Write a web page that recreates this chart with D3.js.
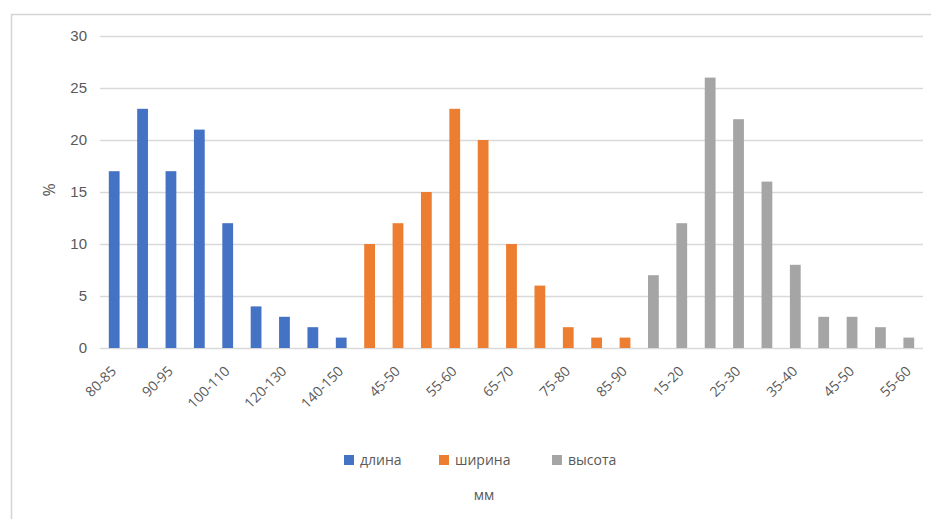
<!DOCTYPE html>
<html>
<head>
<meta charset="utf-8">
<script src="https://cdn.jsdelivr.net/npm/d3@7"></script>
<style>
  html, body { margin: 0; padding: 0; background: #fff; }
  svg { display: block; font-family: "Open Sans", "Noto Sans", sans-serif; }
</style>
</head>
<body>
<svg id="chart" width="931" height="519"></svg>
<script>
// Size classes (mm) for each measured dimension
const lengthBins = ["80-85", "85-90", "90-95", "95-100", "100-110", "110-120", "120-130", "130-140", "140-150"];
const widthBins  = ["40-45", "45-50", "50-55", "55-60", "60-65", "65-70", "70-75", "75-80", "80-85", "85-90"];
const heightBins = ["10-15", "15-20", "20-25", "25-30", "30-35", "35-40", "40-45", "45-50", "50-55", "55-60"];

// Share of specimens in each class, %
const lengthValues = [17, 23, 17, 21, 12, 4, 3, 2, 1];
const widthValues  = [10, 12, 15, 23, 20, 10, 6, 2, 1, 1];
const heightValues = [7, 12, 26, 22, 16, 8, 3, 3, 2, 1];

const seriesNames = ["длина", "ширина", "высота"];
const seriesColors = ["#4472C4", "#ED7D31", "#A5A5A5"];
const yTicks = [0, 5, 10, 15, 20, 25, 30];
const yTitle = "%";
const xTitle = "мм";

// One row per category, tagged with its series
const rows = [];
[[lengthBins, lengthValues], [widthBins, widthValues], [heightBins, heightValues]].forEach(([bins, vals], s) => {
  bins.forEach((b, i) => rows.push({ key: s + ":" + b, label: b, value: vals[i], series: s }));
});

const svg = d3.select("#chart");
const W = 931, H = 519;
const plot = { left: 100, right: 923, top: 36, bottom: 348 };

// Chart frame
svg.append("path")
  .attr("d", `M11.5,${H} V14.5 H${W}`)
  .attr("fill", "none").attr("stroke", "#d4d4d4").attr("stroke-width", 1.5);

const x = d3.scaleBand()
  .domain(rows.map(d => d.key))
  .range([plot.left, plot.right])
  .paddingInner(0.62).paddingOuter(0.31);

const y = d3.scaleLinear().domain([0, 30]).range([plot.bottom, plot.top]);

const color = d3.scaleOrdinal().domain([0, 1, 2]).range(seriesColors);

// Horizontal gridlines and value labels
const yAxis = svg.append("g")
  .attr("transform", `translate(${plot.left},0)`)
  .call(d3.axisLeft(y).tickValues(yTicks).tickSize(-(plot.right - plot.left)).tickPadding(13));
yAxis.select(".domain").remove();
yAxis.selectAll(".tick line").attr("stroke", "#d9d9d9").attr("stroke-width", 1.3);
yAxis.selectAll(".tick text")
  .attr("fill", "#595959").style("font-size", "15px");

// Bars
svg.append("g").selectAll("rect")
  .data(rows)
  .join("rect")
  .attr("x", d => x(d.key))
  .attr("width", x.bandwidth())
  .attr("y", d => y(d.value))
  .attr("height", d => y(0) - y(d.value))
  .attr("fill", d => color(d.series));

// Category labels, every second class
const labelled = rows.filter((d, i) => i % 2 === 0);
svg.append("g").selectAll("text")
  .data(labelled)
  .join("text")
  .attr("transform", d => `translate(${x(d.key) + x.bandwidth() / 2 + 3},${plot.bottom + 24}) rotate(-45)`)
  .attr("text-anchor", "end")
  .attr("fill", "#595959")
  .style("font-size", "14px")
  .text(d => d.label);

// Y title
svg.append("text")
  .attr("transform", `translate(49,190) rotate(-90)`)
  .attr("text-anchor", "middle")
  .attr("dy", "0.35em")
  .attr("fill", "#595959")
  .style("font-size", "16px")
  .text(yTitle);

// Legend
const legendX = [344, 439, 552];
const legend = svg.append("g").selectAll("g")
  .data(seriesNames)
  .join("g")
  .attr("transform", (d, i) => `translate(${legendX[i]},460)`);
legend.append("rect")
  .attr("x", 0).attr("y", -5).attr("width", 10).attr("height", 10)
  .attr("fill", (d, i) => seriesColors[i]);
legend.append("text")
  .attr("x", 16).attr("dy", "0.35em")
  .attr("fill", "#595959")
  .style("font-size", "14px")
  .text(d => d);

// X title
svg.append("text")
  .attr("x", 484).attr("y", 495)
  .attr("text-anchor", "middle")
  .attr("dy", "0.35em")
  .attr("fill", "#595959")
  .style("font-size", "14px")
  .text(xTitle);
</script>
</body>
</html>
